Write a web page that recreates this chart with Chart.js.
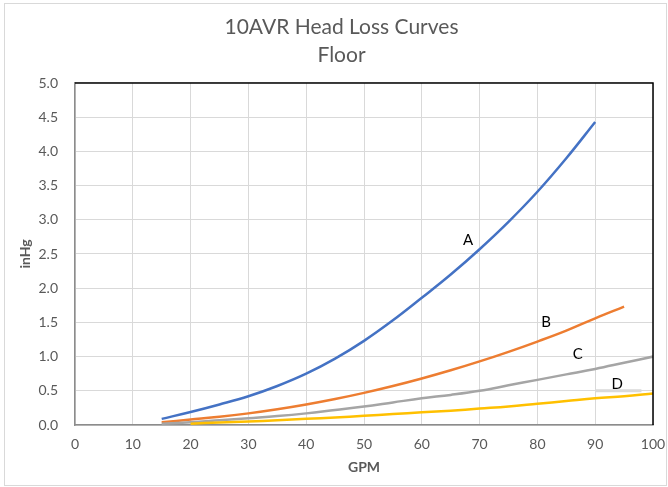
<!DOCTYPE html>
<html><head><meta charset="utf-8">
<script src="https://cdn.jsdelivr.net/npm/chart.js@4"></script>
<style>html,body{margin:0;padding:0;background:#fff}#wrap{position:relative;width:668px;height:487px}</style>
</head><body><div id="wrap"><canvas id="c" width="668" height="487"></canvas></div>
<script>
// ---- data ----
const gpmA  = [15,20,25,30,35,40,45,50,55,60,65,70,75,80,85,90];
const headA = [0.09,0.19,0.30,0.42,0.57,0.75,0.97,1.23,1.53,1.86,2.20,2.57,2.97,3.41,3.90,4.43];
const gpmB  = [15,20,25,30,35,40,45,50,55,60,65,70,75,80,85,90,95];
const headB = [0.04,0.08,0.12,0.17,0.23,0.30,0.38,0.47,0.57,0.68,0.80,0.93,1.07,1.22,1.38,1.56,1.73];
const gpmC  = [15,20,25,30,35,40,45,50,55,60,65,70,75,80,85,90,95,100];
const headC = [0.02,0.04,0.07,0.10,0.13,0.17,0.22,0.27,0.33,0.39,0.44,0.50,0.58,0.66,0.74,0.82,0.91,1.00];
const gpmD  = [20,25,30,35,40,45,50,55,60,65,70,75,80,85,90,95,100];
const headD = [0.02,0.035,0.05,0.07,0.09,0.11,0.135,0.16,0.185,0.21,0.24,0.27,0.31,0.35,0.39,0.42,0.46];
const stubX = [90,98];
const stubY = [0.5,0.5];
const curveLabels = ['A','B','C','D'];
const labelGpm  = [68,81.5,87,93.8];
const labelHead = [2.7,1.51,1.03,0.59];
const titleLines = ['10AVR Head Loss Curves','Floor'];
const xTitle = 'GPM';
const yTitle = 'inHg';

const pts = (xs, ys) => xs.map((x,i)=>({x:x, y:ys[i]}));
const FONT = 'Lato, "Open Sans", sans-serif';
const TXT = '#595959';

const deco = {
  id:'deco',
  afterDraw(chart){
    const {ctx, chartArea:a, scales:{x,y}} = chart;
    ctx.save();
    ctx.strokeStyle = '#000'; ctx.lineWidth = 1.5;
    ctx.beginPath();
    ctx.moveTo(a.left, a.top); ctx.lineTo(a.right, a.top); ctx.lineTo(a.right, a.bottom);
    ctx.stroke();
    ctx.fillStyle = '#000';
    ctx.font = '15px ' + FONT;
    ctx.textAlign = 'center'; ctx.textBaseline = 'middle';
    curveLabels.forEach((t,i)=>{
      ctx.fillText(t, x.getPixelForValue(labelGpm[i]), y.getPixelForValue(labelHead[i]));
    });
    ctx.strokeStyle = '#d9d9d9'; ctx.lineWidth = 1;
    ctx.strokeRect(4.5, 3.5, 662, 482);
    ctx.restore();
  }
};

const lineDs = (label, data, color) => ({
  label, data, borderColor: color, backgroundColor: color, borderWidth: 2.5,
  showLine: true, pointRadius: 0, tension: 0.4, fill: false, yAxisID: 'y'
});

new Chart(document.getElementById('c'), {
  type: 'scatter',
  data: { datasets: [
    {label:'stub', data: pts(stubX, stubY), borderColor:'#d9d9d9', borderWidth:3, showLine:true, pointRadius:0, yAxisID:'y'},
    lineDs('D', pts(gpmD, headD), '#FFC000'),
    lineDs('C', pts(gpmC, headC), '#A5A5A5'),
    lineDs('B', pts(gpmB, headB), '#ED7D31'),
    lineDs('A', pts(gpmA, headA), '#4472C4')
  ]},
  options: {
    responsive: false, animation: false, devicePixelRatio: 1,
    layout: { padding: { left: 17, right: 2, top: 0, bottom: 8 } },
    plugins: {
      legend: { display: false },
      tooltip: { enabled: false },
      title: { display: true, text: titleLines, color: TXT,
        font: { family: FONT, size: 21, weight: 'normal', lineHeight: 1.333 },
        padding: { top: 13, bottom: 14 } }
    },
    scales: {
      x: { type: 'linear', min: 0, max: 100,
        afterFit: s => { s.height = 54; s.paddingLeft = 0; s.paddingRight = 0; },
        ticks: { stepSize: 10, color: TXT, font: { family: FONT, size: 14 }, padding: 11 },
        grid: { color: '#d9d9d9', drawTicks: false },
        border: { color: '#8c8c8c', width: 1.5 },
        title: { display: true, text: xTitle, color: TXT, font: { family: FONT, size: 14, weight: 'bold' }, padding: { top: 0, bottom: 3 } } },
      y: { min: 0, max: 5, position: 'left',
        afterFit: s => { s.width = 58; s.paddingTop = 0; s.paddingBottom = 0; },
        ticks: { stepSize: 0.5, color: TXT, font: { family: FONT, size: 14 }, padding: 17,
          callback: v => Number(v).toFixed(1) },
        grid: { color: '#d9d9d9', drawTicks: false },
        border: { color: '#8c8c8c', width: 1.5 },
        title: { display: true, text: yTitle, color: TXT, font: { family: FONT, size: 14, weight: 'bold' }, padding: { top: 0, bottom: 0 } } },
      y2: { min: 0, max: 5, position: 'right', display: true,
        afterFit: s => { s.width = 13; s.paddingTop = 0; s.paddingBottom = 0; },
        ticks: { display: false }, grid: { display: false, drawTicks: false }, border: { display: false } }
    }
  },
  plugins: [deco]
});
</script></body></html>
